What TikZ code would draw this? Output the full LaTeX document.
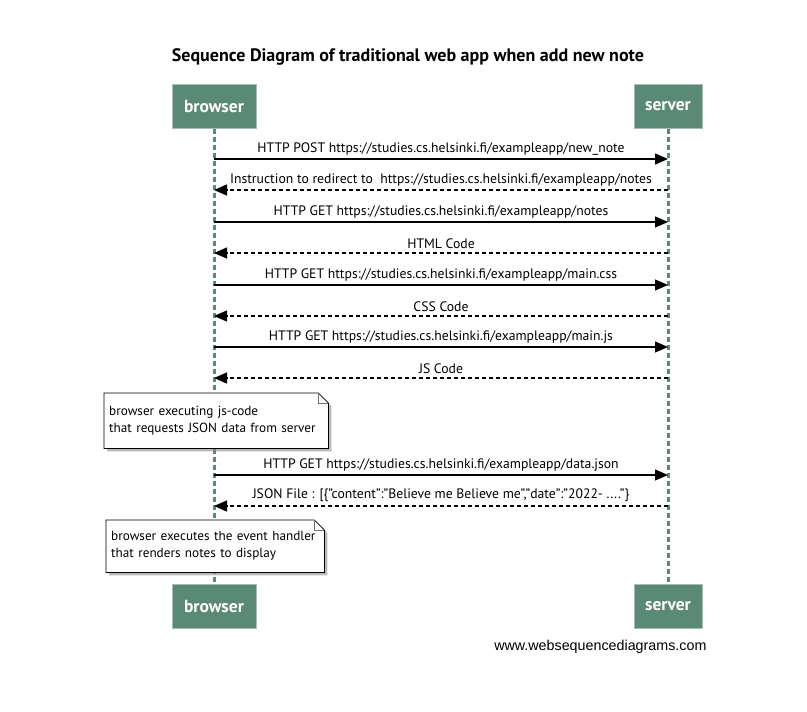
\documentclass[tikz,border=0pt]{standalone}
\usepackage{fontspec}
\setmainfont{PT Sans}
\newfontfamily\footfont{Liberation Sans}
\usetikzlibrary{arrows.meta,shadows,backgrounds}
\definecolor{actorgreen}{HTML}{5A8A75}
\definecolor{lifegreen}{HTML}{5B8A7A}
\tikzset{
  actor/.style={fill=actorgreen,draw=actorgreen!55!white,line width=1pt,text=white,
    font=\bfseries\fontsize{17.5}{17.5}\selectfont,minimum height=44pt},
  lifeline/.style={draw=lifegreen,line width=3pt,dash pattern=on 5pt off 3pt},
  call/.style={-{Triangle[length=13pt,width=11pt]},line width=1.3pt},
  reply/.style={call,dash pattern=on 4pt off 3pt},
  msglabel/.style={above=0pt,font=\fontsize{13.7}{13.7}\selectfont},
  notetext/.style={anchor=north west,align=left,text width=214pt,inner xsep=5pt,
    minimum height=55pt,font=\fontsize{13.2}{17}\selectfont},
  notebox/.style={fill=white,draw=black,line width=0.8pt,
    drop shadow={shadow xshift=3pt,shadow yshift=-3pt,fill=black!45,opacity=0.6}},
}
\begin{document}
\begin{tikzpicture}[x=1pt,y=-1pt]
\useasboundingbox (0,0) rectangle (807,712);

\node[font=\bfseries\fontsize{18}{18}\selectfont] (title) at (408,57)
  {Sequence Diagram of traditional web app when add new note};

\node[actor,minimum width=84pt] (browserTop) at (214,106) {browser};
\node[actor,minimum width=68pt] (serverTop)  at (668,106) {server};
\node[actor,minimum width=84pt] (browserBot) at (214,606) {browser};
\node[actor,minimum width=68pt] (serverBot)  at (668,606) {server};

\begin{scope}[on background layer]
\draw[lifeline] (browserTop.south) -- (browserBot.north);
\draw[lifeline] (serverTop.south) -- (serverBot.north);
\end{scope}

% message levels on both lifelines
\foreach \i/\y in {1/159,2/190,3/222,4/253,5/285,6/316,7/347,8/378,9/475,10/506}{
  \coordinate (b\i) at (214,\y);
  \coordinate (s\i) at (668,\y);
}

\draw[call]  (b1) -- (s1) node[msglabel,midway] {HTTP POST https://studies.cs.helsinki.fi/exampleapp/new\_note};
\draw[reply] (s2) -- (b2) node[msglabel,midway] {Instruction to redirect to\ \ https://studies.cs.helsinki.fi/exampleapp/notes};
\draw[call]  (b3) -- (s3) node[msglabel,midway] {HTTP GET https://studies.cs.helsinki.fi/exampleapp/notes};
\draw[reply] (s4) -- (b4) node[msglabel,midway] {HTML Code};
\draw[call]  (b5) -- (s5) node[msglabel,midway] {HTTP GET https://studies.cs.helsinki.fi/exampleapp/main.css};
\draw[reply] (s6) -- (b6) node[msglabel,midway] {CSS Code};
\draw[call]  (b7) -- (s7) node[msglabel,midway] {HTTP GET https://studies.cs.helsinki.fi/exampleapp/main.js};
\draw[reply] (s8) -- (b8) node[msglabel,midway] {JS Code};

\node[notetext] (note1) at (104,393) {browser executing js-code\\that requests JSON data from server};

\draw[call]  (b9) -- (s9) node[msglabel,midway] {HTTP GET https://studies.cs.helsinki.fi/exampleapp/data.json};
\draw[reply] (s10) -- (b10) node[msglabel,midway] {JSON File : [\{"content":"Believe me Believe me","date":"2022- ...."\}};

\node[notetext,text width=208pt,minimum height=52pt] (note2) at (106,520) {browser executes the event handler\\that renders notes to display};

% dog-eared note outlines
\begin{scope}[on background layer]
\foreach \n in {note1,note2}{
  \draw[notebox] (\n.south west) -- (\n.north west) -- ([xshift=-10pt]\n.north east)
    -- ([yshift=-10pt]\n.north east) -- (\n.south east) -- cycle;
  \draw[black!55,line width=0.8pt] ([xshift=-10pt]\n.north east) |- ([yshift=-10pt]\n.north east);
}
\end{scope}

\node[font=\footfont\fontsize{14.3}{14.3}\selectfont,anchor=east] (footer) at (710,647) {www.websequencediagrams.com};

\end{tikzpicture}
\end{document}
